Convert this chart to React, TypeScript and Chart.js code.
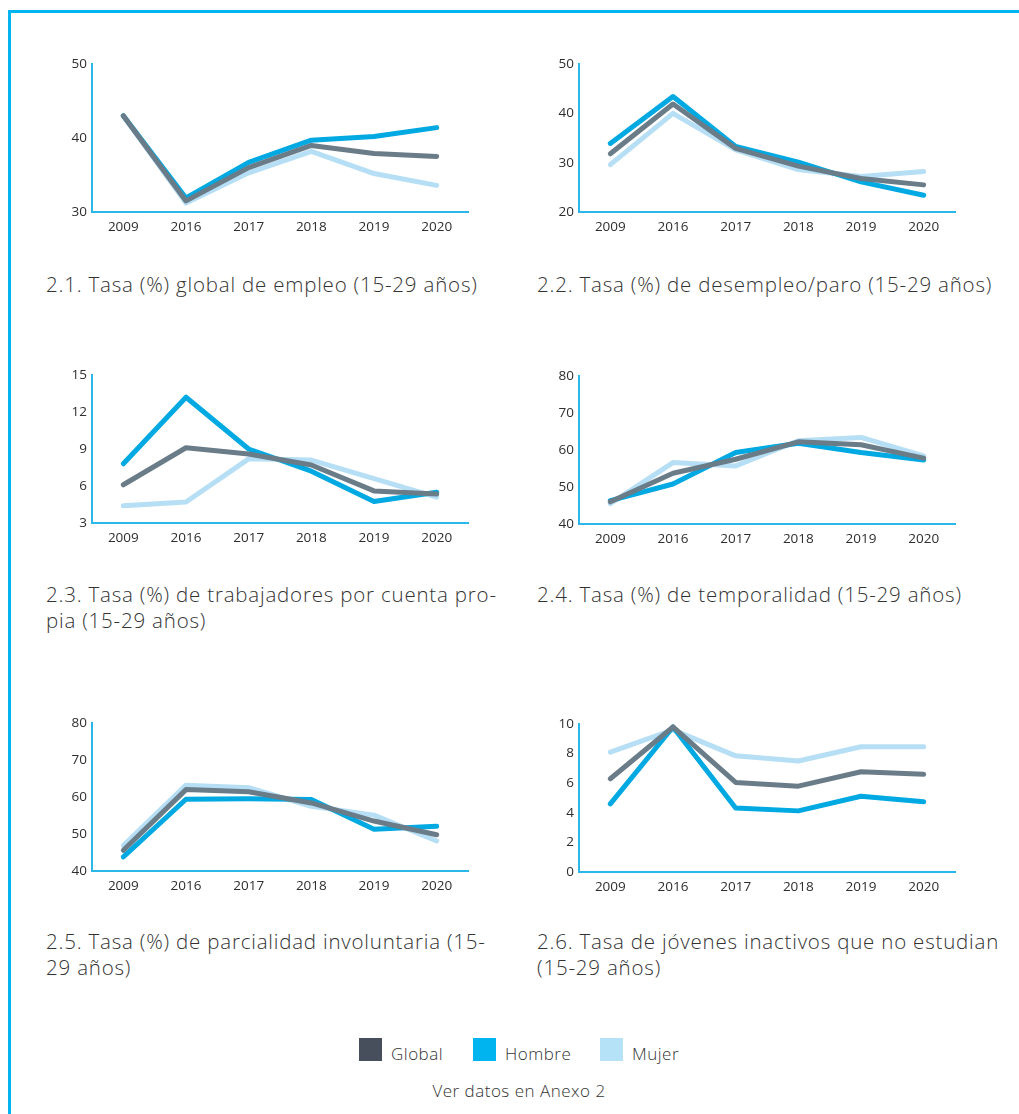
import React, { useEffect, useRef } from "react";
import Chart from "chart.js/auto";

const years = ["2009", "2016", "2017", "2018", "2019", "2020"];

// 2.1 Tasa global de empleo
const empleoGlobal = [43.0, 31.5, 36.0, 39.0, 37.9, 37.5];
const empleoHombre = [43.0, 31.9, 36.7, 39.7, 40.2, 41.4];
const empleoMujer = [43.0, 31.2, 35.3, 38.2, 35.2, 33.6];

// 2.2 Tasa de desempleo/paro
const paroGlobal = [31.8, 41.9, 32.9, 29.3, 26.8, 25.5];
const paroHombre = [33.9, 43.4, 33.3, 30.1, 26.1, 23.4];
const paroMujer = [29.6, 40.0, 32.6, 28.6, 27.2, 28.2];

// 2.3 Trabajadores por cuenta propia
const propiaGlobal = [6.1, 9.1, 8.6, 7.7, 5.6, 5.35];
const propiaHombre = [7.8, 13.2, 9.0, 7.2, 4.75, 5.5];
const propiaMujer = [4.4, 4.7, 8.2, 8.1, 6.6, 5.1];

// 2.4 Temporalidad
const tempGlobal = [46.0, 53.7, 57.5, 62.2, 61.4, 57.8];
const tempHombre = [46.3, 50.8, 59.3, 61.8, 59.3, 57.3];
const tempMujer = [45.5, 56.6, 55.7, 62.5, 63.4, 58.4];

// 2.5 Parcialidad involuntaria
const parcGlobal = [45.6, 62.0, 61.4, 58.4, 53.5, 49.8];
const parcHombre = [43.8, 59.4, 59.5, 59.3, 51.3, 52.1];
const parcMujer = [46.9, 63.2, 62.5, 57.5, 55.1, 48.1];

// 2.6 Jóvenes inactivos que no estudian
const inactGlobal = [6.3, 9.8, 6.05, 5.8, 6.77, 6.6];
const inactHombre = [4.6, 9.8, 4.33, 4.13, 5.12, 4.74];
const inactMujer = [8.1, 9.6, 7.85, 7.5, 8.46, 8.46];

const seriesNames = ["Global", "Hombre", "Mujer"];
const lineColors = ["#6b7c89", "#00a9e2", "#b6dff5"];
const legendColors = ["#474f5c", "#00b5ef", "#b5e2f7"];

const FONT = "'Open Sans', Lato, sans-serif";
const TEXT = "#333";
const AXIS = "#2bb7ea";

type Props = {
  left: number;
  top: number;
  min: number;
  max: number;
  step: number;
  global: number[];
  hombre: number[];
  mujer: number[];
};

function LineChart({ left, top, min, max, step, global, hombre, mujer }: Props) {
  const ref = useRef<HTMLCanvasElement | null>(null);
  useEffect(() => {
    if (!ref.current) return;
    const data = [global, hombre, mujer];
    const chart = new Chart(ref.current, {
      type: "line",
      data: {
        labels: years,
        datasets: data.map((d, i) => ({
          label: seriesNames[i],
          data: d,
          borderColor: lineColors[i],
          backgroundColor: lineColors[i],
          borderWidth: 5,
          pointRadius: 0,
          pointHoverRadius: 0,
          tension: 0,
          borderCapStyle: "round" as const,
          borderJoinStyle: "round" as const,
          fill: false,
        })),
      },
      options: {
        animation: false,
        responsive: false,
        maintainAspectRatio: false,
        events: [],
        layout: { padding: { top: 14, right: 12, left: 0, bottom: 0 } },
        plugins: { legend: { display: false }, tooltip: { enabled: false } },
        scales: {
          x: {
            offset: true,
            grid: { display: false, drawTicks: false },
            border: { display: true, color: AXIS, width: 2 },
            ticks: { color: "#2e2e2e", font: { family: FONT, size: 13.5, weight: "400" }, padding: 7, maxRotation: 0 },
            afterFit: (s: any) => {
              s.height = 30;
            },
          },
          y: {
            min,
            max,
            grid: { display: false, drawTicks: false },
            border: { display: true, color: AXIS, width: 2 },
            ticks: { stepSize: step, color: "#2e2e2e", font: { family: FONT, size: 13.5, weight: "400" }, padding: 5 },
            afterFit: (s: any) => {
              s.width = 52;
            },
          },
        },
      },
    });
    return () => chart.destroy();
  }, []);
  return (
    <canvas
      ref={ref}
      width={440}
      height={192}
      style={{ position: "absolute", left, top, width: 440, height: 192 }}
    />
  );
}

const titleStyle = (left: number, top: number): React.CSSProperties => ({
  position: "absolute",
  left,
  top,
  fontFamily: FONT,
  fontSize: 20.5,
  lineHeight: "26px",
  color: TEXT,
  whiteSpace: "nowrap",
  fontWeight: 300,
  letterSpacing: "0.8px",
});

export default function App() {
  return (
    <div
      style={{
        position: "absolute",
        left: 0,
        top: 0,
        width: 1019,
        height: 1114,
        background: "#fff",
        overflow: "hidden",
        fontFamily: FONT,
      }}
    >
      <div style={{ position: "absolute", left: 8, top: 10, width: 1011, height: 3, background: "#00b5ef" }} />
      <div style={{ position: "absolute", left: 8, top: 10, width: 3, height: 1104, background: "#00b5ef" }} />

      <LineChart left={40} top={50} min={30} max={50} step={10} global={empleoGlobal} hombre={empleoHombre} mujer={empleoMujer} />
      <LineChart left={527} top={50} min={20} max={50} step={10} global={paroGlobal} hombre={paroHombre} mujer={paroMujer} />
      <LineChart left={40} top={361} min={3} max={15} step={3} global={propiaGlobal} hombre={propiaHombre} mujer={propiaMujer} />
      <LineChart left={527} top={362} min={40} max={80} step={10} global={tempGlobal} hombre={tempHombre} mujer={tempMujer} />
      <LineChart left={40} top={709} min={40} max={80} step={10} global={parcGlobal} hombre={parcHombre} mujer={parcMujer} />
      <LineChart left={527} top={710} min={0} max={10} step={2} global={inactGlobal} hombre={inactHombre} mujer={inactMujer} />

      <div style={titleStyle(46, 271)}>2.1. Tasa (%) global de empleo (15-29 años)</div>
      <div style={titleStyle(537, 271)}>2.2. Tasa (%) de desempleo/paro (15-29 años)</div>
      <div style={titleStyle(46, 581)}>
        2.3. Tasa (%) de trabajadores por cuenta pro-
        <br />
        pia (15-29 años)
      </div>
      <div style={titleStyle(537, 581)}>2.4. Tasa (%) de temporalidad (15-29 años)</div>
      <div style={titleStyle(46, 928)}>
        2.5. Tasa (%) de parcialidad involuntaria (15-
        <br />
        29 años)
      </div>
      <div style={titleStyle(537, 928)}>
        2.6. Tasa de jóvenes inactivos que no estudian
        <br />
        (15-29 años)
      </div>

      {seriesNames.map((n, i) => {
        const xs = [359, 473, 600];
        return (
          <div key={n}>
            <div
              style={{
                position: "absolute",
                left: xs[i],
                top: 1038,
                width: 23,
                height: 23,
                background: legendColors[i],
              }}
            />
            <div
              style={{
                position: "absolute",
                left: xs[i] + 32,
                top: 1043,
                fontSize: 17,
                fontWeight: 300,
                letterSpacing: "0.5px",
                lineHeight: "22px",
                color: TEXT,
              }}
            >
              {n}
            </div>
          </div>
        );
      })}
      <div
        style={{
          position: "absolute",
          left: 0,
          width: 1038,
          top: 1080,
          textAlign: "center",
          fontSize: 17,
          fontWeight: 300,
          letterSpacing: "0.5px",
          lineHeight: "22px",
          color: TEXT,
        }}
      >
        Ver datos en Anexo 2
      </div>
    </div>
  );
}
